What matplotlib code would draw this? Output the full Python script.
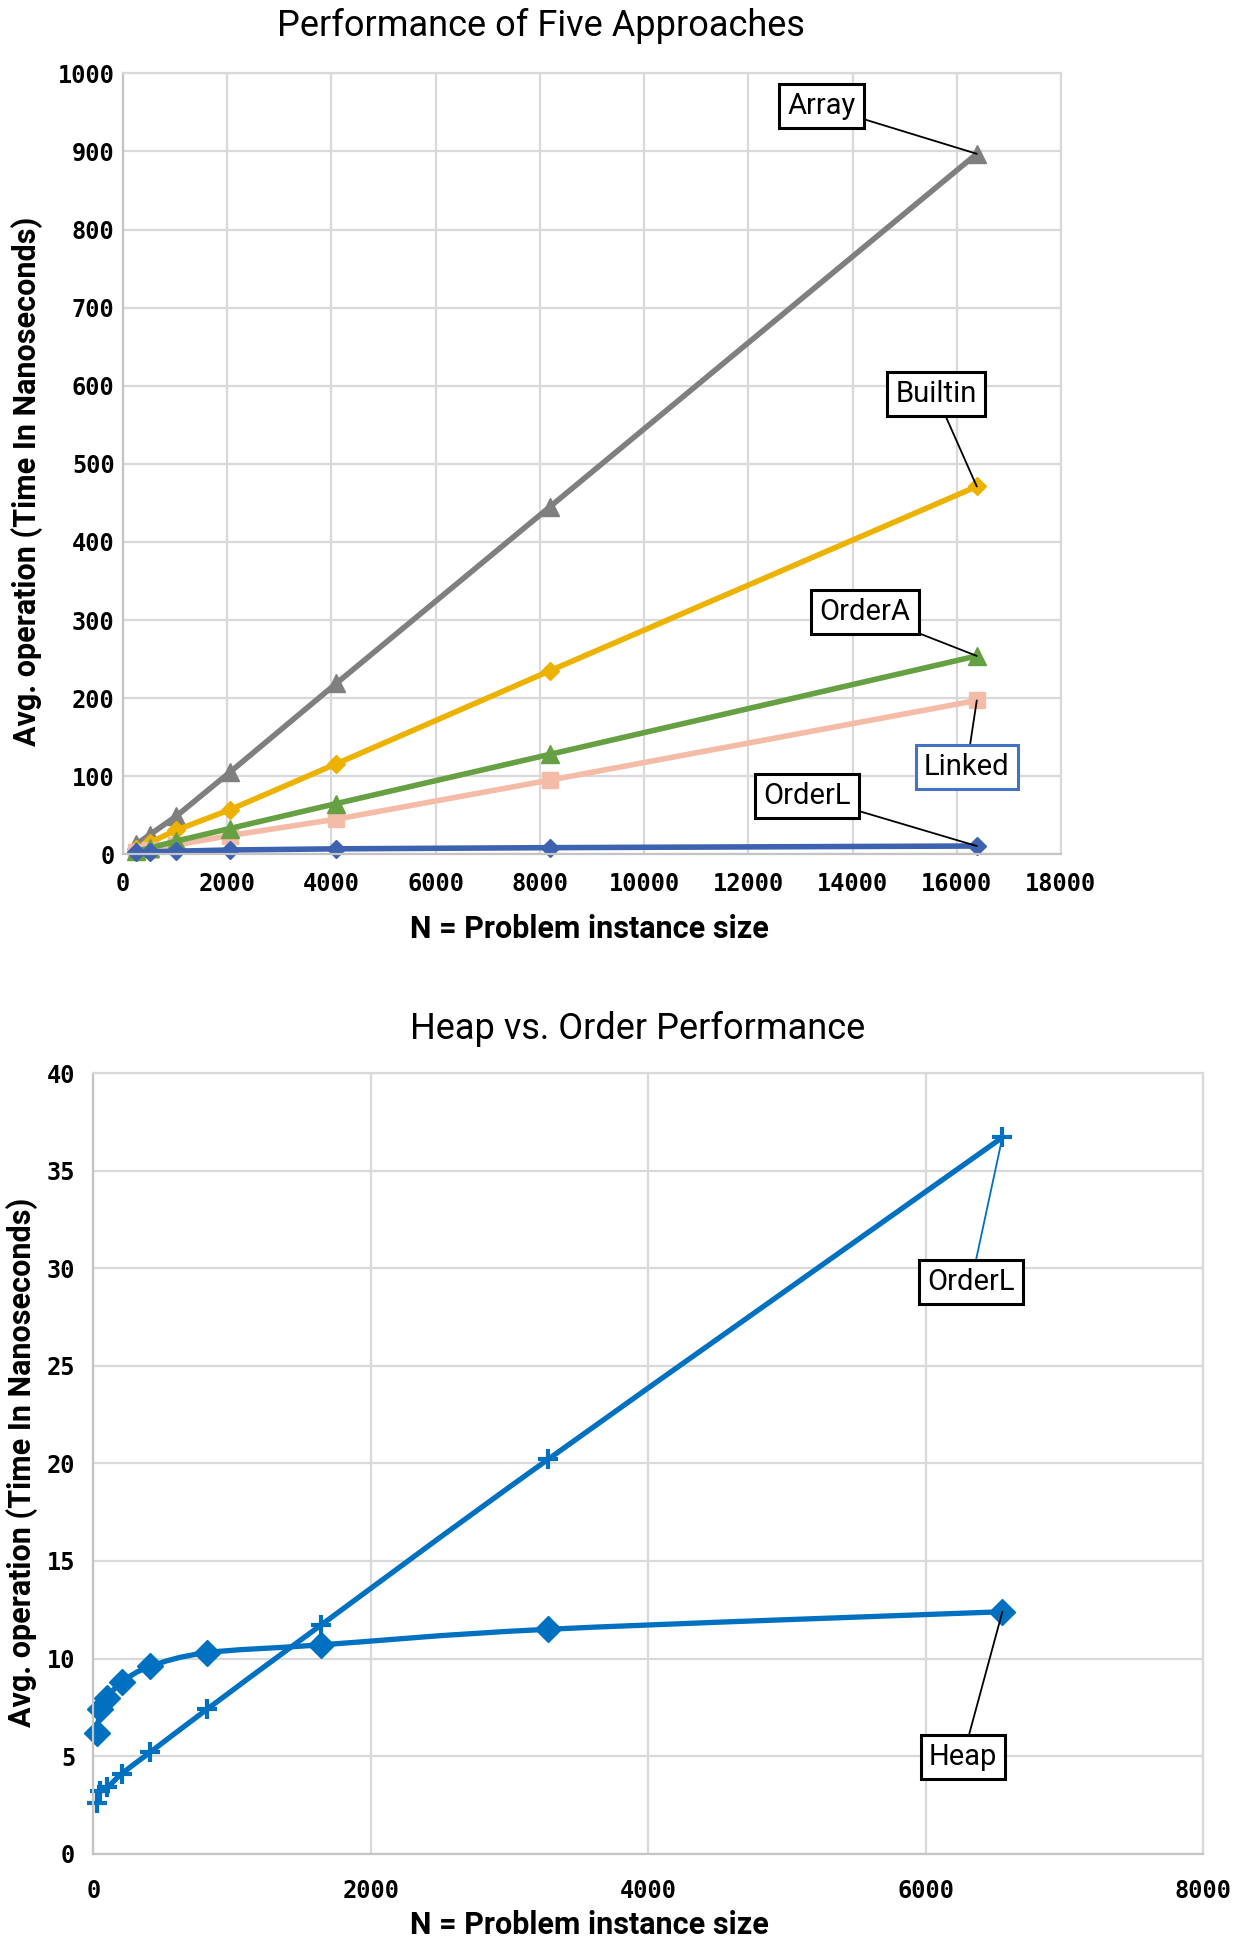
import numpy as np
import matplotlib.pyplot as plt
from matplotlib.path import Path
from matplotlib.patches import PathPatch

# --- data ---
n_top = [256, 512, 1024, 2048, 4096, 8192, 16384]
array_t = [13, 25, 49, 105, 219, 445, 897]
builtin_t = [7, 15, 31, 57, 116, 235, 471]
ordera_t = [4, 8, 17, 33, 65, 128, 254]
linked_t = [3, 6, 12, 24, 45, 95, 197]
orderl_t = [2.5, 3, 4, 5.5, 7, 8.5, 10.6]

n_bot = [26, 51, 102, 205, 410, 819, 1638, 3277, 6554]
orderl_b = [2.6, 3.2, 3.4, 4.1, 5.2, 7.4, 11.7, 20.2, 36.7]
heap_b = [6.2, 7.4, 8.0, 8.8, 9.6, 10.3, 10.7, 11.5, 12.4]

top_xticks = list(range(0, 18001, 2000))
top_yticks = list(range(0, 1001, 100))
bot_xticks = [0, 2000, 4000, 6000, 8000]
bot_yticks = [0, 5, 10, 15, 20, 25, 30, 35, 40]

NARROW = ['Roboto', 'DejaVu Sans']
MONO = 'DejaVu Sans Mono'
GRID = '#D9D9D9'
BLUE = '#0070C0'


def smooth_path(xs, ys):
    # excel-like smoothed line (catmull-rom as bezier)
    pts = np.column_stack([xs, ys]).astype(float)
    verts = [pts[0]]
    codes = [Path.MOVETO]
    for i in range(len(pts) - 1):
        p0 = pts[i - 1] if i > 0 else pts[i]
        p1 = pts[i]
        p2 = pts[i + 1]
        p3 = pts[i + 2] if i + 2 < len(pts) else pts[i + 1]
        verts += [p1 + (p2 - p0) / 6, p2 - (p3 - p1) / 6, p2]
        codes += [Path.CURVE4] * 3
    return Path(verts, codes)


def style_axes(ax, xt, yt):
    ax.set_xticks(xt)
    ax.set_yticks(yt)
    ax.set_xlim(xt[0], xt[-1])
    ax.set_ylim(yt[0], yt[-1])
    ax.grid(True, color=GRID, lw=1.6)
    ax.set_axisbelow(True)
    for s in ax.spines.values():
        s.set_color(GRID)
        s.set_linewidth(1.6)
    ax.spines['left'].set_color('#C4C4C4')
    ax.spines['bottom'].set_color('#C4C4C4')
    ax.tick_params(length=0, labelsize=17)
    for lab in ax.get_xticklabels() + ax.get_yticklabels():
        lab.set_family(MONO)
        lab.set_weight('bold')


def label_box(ax, text, xy, xytext, ec='black', lc='black'):
    ax.annotate(text, xy=xy, xytext=xytext, textcoords='data',
                ha='center', va='center', fontsize=21, family=NARROW,
                bbox=dict(boxstyle='square,pad=0.28', fc='white', ec=ec, lw=2.2),
                arrowprops=dict(arrowstyle='-', color=lc, lw=1.3,
                                shrinkA=0, shrinkB=0),
                zorder=10)


fig = plt.figure(figsize=(12.33, 19.46), dpi=100)

# ---------------- top chart ----------------
ax1 = fig.add_axes([0.0998, 0.5610, 0.7607, 0.4013])
style_axes(ax1, top_xticks, top_yticks)
ax1.tick_params(axis='x', pad=13)
ax1.tick_params(axis='y', pad=6)

ax1.plot(n_top, array_t, color='#7F7F7F', lw=4, marker='^', ms=13, clip_on=False)
ax1.plot(n_top, builtin_t, color='#EDB200', lw=4, marker='D', ms=9, clip_on=False)
ax1.plot(n_top, linked_t, color='#F4BBA6', lw=4, marker='s', ms=12, clip_on=False)
ax1.plot(n_top, ordera_t, color='#65A043', lw=4, marker='^', ms=13, clip_on=False)
ax1.plot(n_top, orderl_t, color='#3D62B0', lw=4, marker='D', ms=9, clip_on=False)

label_box(ax1, 'Array', (n_top[-1], array_t[-1]), (13400, 958))
label_box(ax1, 'Builtin', (n_top[-1], builtin_t[-1]), (15600, 589))
label_box(ax1, 'OrderA', (n_top[-1], ordera_t[-1]), (14240, 310))
label_box(ax1, 'Linked', (n_top[-1], linked_t[-1]), (16190, 112), ec='#4472C4')
label_box(ax1, 'OrderL', (n_top[-1], orderl_t[-1]), (13130, 75))

fig.text(0.4388, 0.9868, 'Performance of Five Approaches', ha='center', va='center',
         fontsize=26, family=NARROW)
fig.text(0.0219, 0.7528, 'Avg. operation (Time In Nanoseconds)', rotation=90,
         ha='center', va='center', fontsize=22, weight='bold', family=NARROW)
fig.text(0.4777, 0.5226, 'N = Problem instance size', ha='center', va='center',
         fontsize=22, weight='bold', family=NARROW)

# ---------------- bottom chart ----------------
ax2 = fig.add_axes([0.0757, 0.0474, 0.8999, 0.4012])
style_axes(ax2, bot_xticks, bot_yticks)
ax2.tick_params(axis='x', pad=18)
ax2.tick_params(axis='y', pad=13)

ax2.add_patch(PathPatch(smooth_path(n_bot, orderl_b), fill=False, ec=BLUE, lw=3.8))
ax2.add_patch(PathPatch(smooth_path(n_bot, heap_b), fill=False, ec=BLUE, lw=3.8))
ax2.plot(n_bot, orderl_b, ls='none', marker='+', ms=15, mew=3, color=BLUE, clip_on=False)
ax2.plot(n_bot, heap_b, ls='none', marker='D', ms=13, color=BLUE, clip_on=False)

label_box(ax2, 'OrderL', (n_bot[-1], orderl_b[-1]), (6330, 29.3), lc=BLUE)
label_box(ax2, 'Heap', (n_bot[-1], heap_b[-1]), (6270, 4.95))

fig.text(0.5174, 0.4713, 'Heap vs. Order Performance', ha='center', va='center',
         fontsize=26, family=NARROW)
fig.text(0.0178, 0.2487, 'Avg. operation (Time In Nanoseconds)', rotation=90,
         ha='center', va='center', fontsize=22, weight='bold', family=NARROW)
fig.text(0.4777, 0.0108, 'N = Problem instance size', ha='center', va='center',
         fontsize=22, weight='bold', family=NARROW)

fig.savefig('out.png', dpi=100)
